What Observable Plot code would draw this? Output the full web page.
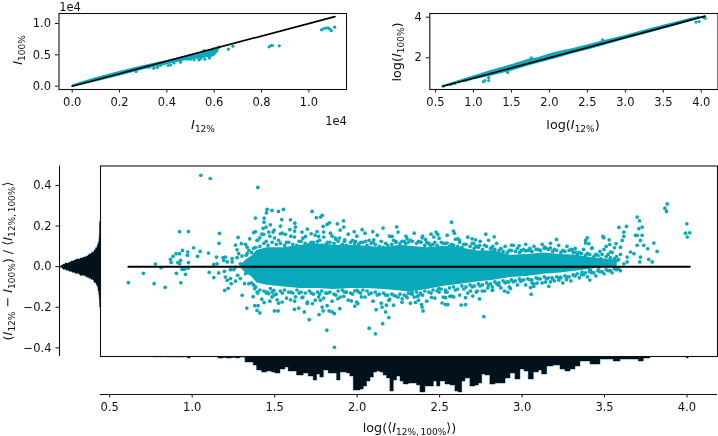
<!DOCTYPE html>
<html><head><meta charset="utf-8">
<script src="https://cdn.jsdelivr.net/npm/d3@7"></script>
<script src="https://cdn.jsdelivr.net/npm/@observablehq/plot@0.6"></script>
<style>
html,body{margin:0;padding:0;background:#fff}
#fig{position:relative;width:718px;height:436px;overflow:hidden;font-family:"DejaVu Sans";color:#111;filter:blur(.3px)}
#fig svg{position:absolute;left:0;top:0;background:transparent}
.lb{position:absolute;white-space:nowrap;font-size:12.8px;line-height:14px;transform:translate(-50%,-50%)}
.lb.r{transform:translate(-50%,-50%) rotate(-90deg)}
.lb.s{font-size:11.5px;line-height:9px}
.lb sub{font-size:9px;line-height:0;vertical-align:-3px}
.lb i{font-style:italic}
</style></head><body><div id="fig"></div>
<script>
const teal="#0aa8bb", ink="#03111d", lineInk="#111", edge="#3f8a9e";

// ---- top-left panel: intensities, units of 1e4
const linBandX=[0,.05,.1,.2,.3,.4,.45,.5,.55,.6,.62];
const linBandLow=[-.01,.025,.065,.16,.26,.34,.38,.42,.44,.47,.55];
const linBandHigh=[.02,.08,.135,.235,.325,.41,.455,.5,.55,.6,.62];
const linearPoints=[[.26,.272],[.27,.235],[.324,.303],[.345,.287],[.36,.3],[.373,.33],[.388,.356],[.405,.33],[.416,.34],[.43,.37],[.458,.383],[.465,.436],[.479,.452],[.486,.43],[.5,.43],[.507,.463],[.515,.42],[.529,.463],[.535,.42],[.543,.436],[.55,.47],[.557,.569],[.56,.43],[.564,.516],[.571,.489],[.578,.543],[.58,.45],[.585,.569],[.59,.5],[.599,.596],[.613,.606],[.62,.622],[.66,.59],[.679,.638],[.832,.628],[.84,.649],[.846,.649],[.875,.644],[1.053,.899],[1.061,.915],[1.071,.926],[1.081,.931],[1.088,.91],[1.095,.885],[1.109,.941]];
const linearIdentity=[[0,0],[1.11,1.11]];
const linearXTicks=[0,.2,.4,.6,.8,1], linearYTicks=[0,.5,1];

// ---- top-right panel: log intensities (envelope of the dense band, and isolated points)
const logBandX=[.6,.8,1,1.2,1.5,1.75,1.85,2,2.1,2.3,2.5,2.7,3,3.3,3.5,3.7,3.85,3.98];
const logBandLow=[.56,.73,.9,1.06,1.34,1.62,1.72,1.86,1.96,2.18,2.37,2.58,2.9,3.2,3.4,3.6,3.77,3.92];
const logBandHigh=[.64,.87,1.1,1.34,1.66,1.95,2,2.18,2.28,2.44,2.63,2.83,3.1,3.4,3.6,3.78,3.93,4.04];
const logPoints=[[.6,.6],[.7,.68],[.75,.74],[.8,.82],[.9,.88],[.95,.95],[1.13,.82],[1.15,.88],[1.2,.88],[1.2,1.02],[1.45,1.28],[1.76,2],[2.2,2.32],[2.7,2.88],[3.93,3.76],[3.97,3.78],[4.03,3.98],[4.05,3.94]];
const logIdentity=[[.6,.6],[4.05,4.05]];
const logXTicks=[.5,1,1.5,2,2.5,3,3.5,4], logYTicks=[2,4];

// ---- main panel: dense core (envelope), crowded fringe, then isolated points
const coreX=[1.3,1.33,1.36,1.393,1.454,1.555,1.656,1.757,1.858,1.959,2.06,2.161,2.263,2.323,2.425,2.526,2.627,2.728,2.829,2.93,3.031,3.132,3.233,3.334,3.395,3.476,3.536,3.577];
const coreHigh=[.012,.035,.05,.08,.093,.093,.105,.113,.105,.105,.1,.093,.105,.1,.093,.1,.093,.077,.077,.056,.06,.067,.06,.056,.047,.039,.037,.031];
const coreLow=[-.012,-.035,-.05,-.08,-.092,-.1,-.108,-.108,-.113,-.108,-.108,-.113,-.12,-.125,-.113,-.097,-.087,-.076,-.067,-.054,-.048,-.038,-.031,-.022,-.015,-.005,-.005,-.002];
const fringeX=[1.36,1.385,1.41,1.435,1.46,1.485,1.51,1.535,1.56,1.585,1.61,1.635,1.66,1.685,1.71,1.735,1.76,1.785,1.81,1.835,1.86,1.885,1.91,1.935,1.96,1.985,2.01,2.035,2.06,2.085,2.11,2.135,2.16,2.185,2.21,2.235,2.26,2.285,2.31,2.335,2.36,2.385,2.41,2.435,2.46,2.485,2.51,2.535,2.56,2.585,2.61,2.635,2.66,2.685,2.71,2.735,2.76,2.785,2.81,2.835,2.86,2.885,2.91,2.935,2.96,2.985,3.01,3.035,3.06,3.085,3.11,3.135,3.16,3.185,3.21,3.235,3.26,3.285,3.31,3.335,3.36,3.385,3.41,3.435,3.46,3.485,3.51,3.535,3.56,3.585];
const fringeOuterX=[1.372,1.398,1.422,1.449,1.471,1.497,1.524,1.546,1.572,1.598,1.621,1.648,1.671,1.698,1.722,1.746,1.773,1.797,1.821,1.848,1.871,1.897,1.923,1.946,1.972,1.998,2.021,2.048,2.072,2.096,2.122,2.146,2.173,2.197,2.221,2.248,2.272,2.296,2.323,2.346,2.372,2.397,2.422,2.448,2.471,2.497,2.522,2.546,2.573,2.596,2.622,2.647,2.671,2.698,2.722,2.746,2.773,2.797,2.822,2.846,2.872,2.897,2.922,2.947,2.972,2.996,3.022,3.047,3.072,3.096,3.122,3.147,3.172,3.196,3.222,3.247,3.272,3.296,3.322,3.347,3.372,3.396,3.422,3.447,3.472,3.497,3.522,3.546,3.572,3.596];
const fringeUpper=[.07,.095,.1,.115,.105,.12,.11,.115,.105,.12,.11,.105,.125,.115,.11,.12,.125,.105,.11,.12,.115,.125,.11,.105,.12,.115,.11,.12,.105,.115,.11,.1,.095,.105,.11,.12,.115,.125,.12,.125,.115,.12,.105,.115,.11,.105,.12,.115,.1,.105,.1,.095,.11,.1,.09,.095,.085,.1,.09,.085,.08,.075,.07,.08,.075,.07,.085,.08,.075,.085,.08,.09,.085,.075,.08,.07,.075,.08,.07,.06,.065,.055,.06,.05,.055,.06,.05,.045,.04,.035];
const fringeUpperOuter=[.09,.13,.16,.125,.15,.18,.13,.165,.12,.15,.175,.125,.14,.185,.12,.155,.13,.17,.12,.15,.135,.18,.125,.16,.13,.15,.12,.165,.13,.12,.155,.125,.115,.15,.13,.17,.125,.15,.13,.165,.125,.15,.12,.16,.12,.14,.115,.155,.11,.135,.12,.11,.145,.115,.1,.125,.105,.13,.1,.115,.09,.1,.08,.105,.09,.08,.11,.09,.1,.085,.11,.09,.115,.085,.105,.08,.1,.085,.09,.07,.085,.065,.09,.06,.075,.085,.06,.07,.05,.06];
const fringeLower=[-.08,-.1,-.115,-.12,-.13,-.125,-.135,-.12,-.115,-.125,-.13,-.115,-.125,-.13,-.12,-.135,-.125,-.12,-.13,-.125,-.135,-.12,-.115,-.125,-.13,-.12,-.125,-.115,-.12,-.13,-.125,-.135,-.13,-.14,-.135,-.145,-.135,-.14,-.13,-.135,-.125,-.13,-.12,-.125,-.115,-.12,-.11,-.115,-.105,-.1,-.11,-.095,-.1,-.09,-.095,-.085,-.09,-.08,-.085,-.075,-.08,-.07,-.075,-.065,-.07,-.06,-.065,-.06,-.065,-.055,-.06,-.05,-.055,-.06,-.05,-.055,-.045,-.05,-.04,-.035,-.04,-.03,-.025,-.03,-.02,-.025,-.015,-.02,-.01,-.012];
const fringeLowerOuter=[-.09,-.13,-.16,-.13,-.17,-.14,-.18,-.13,-.155,-.125,-.17,-.13,-.15,-.175,-.13,-.165,-.135,-.155,-.13,-.17,-.14,-.15,-.125,-.165,-.135,-.175,-.13,-.15,-.135,-.17,-.14,-.18,-.14,-.16,-.19,-.15,-.175,-.145,-.18,-.15,-.165,-.14,-.17,-.13,-.155,-.125,-.15,-.125,-.145,-.115,-.14,-.11,-.13,-.1,-.125,-.095,-.12,-.09,-.115,-.085,-.105,-.08,-.1,-.075,-.09,-.07,-.09,-.065,-.085,-.06,-.08,-.06,-.075,-.07,-.055,-.08,-.05,-.07,-.045,-.055,-.04,-.05,-.03,-.045,-.025,-.035,-.02,-.03,-.015,-.02];
const leftTail=[[.613,-.079],[.704,-.033],[.769,-.084],[.836,-.102],[.931,-.079],[.777,.013],[.811,-.005],[.904,-.033],[.959,-.038],[.923,.172],[.977,.173],[1.008,.093],[1.048,.075],[1.032,.051],[1.099,.067],[1.103,-.028],[1.131,-.054],[1.161,-.031],[1.052,.45],[1.109,.434],[1.398,.39],[1.165,.164],[1.163,.115],[.868,.036],[.872,.021],[.884,.051],[.902,.064],[.923,.064],[.941,.08],[.973,.072],[.971,.056],[.977,.02],[.929,.031],[.913,.02],[.939,-.013],[.953,-.013],[.975,-.008],[.923,.015],[1.147,.047],[1.187,.044],[1.201,.047],[1.191,.031],[1.242,.039],[1.272,.044],[1.302,.052],[1.131,.011],[1.151,.014],[1.212,.023],[1.242,.023],[1.262,-.002],[1.292,.014],[1.327,.056],[1.343,.08],[1.353,.039]];
const lowerLeft=[[1.197,-.117],[1.218,-.107],[1.236,-.084],[1.212,-.067],[1.232,-.059],[1.201,-.051],[1.195,-.023],[1.232,-.015],[1.252,-.015],[1.262,-.071],[1.276,-.043],[1.292,-.059],[1.317,-.084],[1.343,-.084],[1.323,-.035],[1.303,-.141],[1.331,-.204],[1.369,-.148],[1.379,-.192],[1.399,-.192],[1.393,-.215],[1.41,-.228],[1.436,-.177],[1.464,-.133],[1.484,-.149],[1.515,-.163],[1.545,-.174],[1.499,-.218],[1.521,-.218],[1.379,-.108],[1.393,-.125],[1.454,-.125],[1.474,-.108],[1.495,-.117],[1.62,-.21],[1.646,-.204],[1.68,-.223],[1.709,-.261],[1.596,-.163],[1.626,-.149],[1.666,-.153],[1.697,-.182],[1.729,-.182],[1.767,-.149],[1.778,-.166],[1.788,-.199],[1.818,-.192],[1.769,-.236],[1.794,-.218],[1.83,-.218],[1.848,-.223],[1.862,-.231],[1.895,-.207],[1.816,-.313],[1.862,-.397],[1.965,-.169],[1.986,-.194],[2.004,-.182],[2.026,-.149],[2,-.117],[1.919,-.146],[1.883,-.158],[2.073,-.303],[2.111,-.331],[2.155,-.281],[2.115,-.212],[2.151,-.199],[2.178,-.19],[2.192,-.166],[2.172,-.223],[2.192,-.251],[2.222,-.141],[2.273,-.158],[2.303,-.153],[2.333,-.125]];
const upperLeft=[[1.383,.239],[1.436,.239],[1.454,.282],[1.484,.277],[1.45,.265],[1.523,.272],[1.553,.282],[1.543,.232],[1.596,.231],[1.622,.214],[1.626,.195],[1.436,.219],[1.448,.195],[1.43,.188],[1.474,.206],[1.535,.2],[1.49,.17],[1.464,.17],[1.373,.168],[1.383,.172],[1.592,.182],[1.565,.159],[1.535,.162],[1.499,.141],[1.434,.159],[1.41,.142],[1.349,.137],[1.323,.11],[1.298,.113],[1.278,.144],[1.262,.106],[1.272,.083],[1.333,.096],[1.282,.064],[1.333,.064],[1.393,.129],[1.727,.272],[1.753,.241],[1.778,.244],[1.788,.252],[1.832,.216],[1.818,.208],[1.794,.198],[1.88,.211],[1.917,.226],[1.919,.195],[1.62,.146],[1.666,.17],[1.687,.149],[1.721,.162],[1.757,.173],[1.767,.149],[1.798,.146],[1.838,.165],[1.868,.141],[1.893,.141],[1.925,.132],[1.982,.172],[2.03,.182],[2.095,.172],[2.157,.19],[2.24,.196],[2.212,.149],[2.101,.132],[2.05,.124],[1.99,.124],[2.236,.124],[2.303,.137],[2.293,.113]];
const upperRight=[[2.572,.219],[2.584,.175],[2.59,.165],[2.61,.137],[2.621,.129],[2.479,.17],[2.489,.159],[2.465,.146],[2.394,.142],[2.414,.134],[2.388,.121],[2.435,.113],[2.445,.105],[2.697,.137],[2.718,.132],[2.708,.113],[2.742,.105],[2.78,.16],[2.831,.147],[2.936,.106],[2.982,.103],[2.809,.088],[2.829,.083],[2.566,.096],[2.546,.116],[3.021,.077],[3.051,.08],[3.136,.096],[3.172,.092],[3.112,.08],[3.209,.134],[3.304,.083],[3.324,.072],[3.395,.142],[3.385,.129],[3.405,.113],[3.425,.092],[3.385,.116],[3.496,.142],[3.49,.149],[3.528,.132],[3.532,.109],[3.51,.1],[3.587,.193],[3.633,.198],[3.617,.17],[3.617,.149],[3.607,.129],[3.57,.113],[3.56,.093],[3.536,.072],[3.597,.096],[3.698,.244],[3.712,.226],[3.728,.195],[3.708,.187],[3.698,.154],[3.688,.154],[3.728,.154],[3.718,.129],[3.698,.105],[3.738,.105],[3.762,.088],[3.799,.116],[3.819,.075],[3.88,.309],[3.866,.288],[3.876,.272],[3.999,.211],[3.991,.165],[4.017,.167],[4.001,.146],[3.657,.072],[3.637,.047],[3.678,.064],[3.718,.047],[3.768,.036],[3.789,.023],[3.714,.023],[3.637,.023],[3.577,.031],[3.617,.014],[3.581,-.007],[3.465,-.005],[3.516,.023],[3.476,.039],[3.415,-.018],[3.411,-.066]];
const lowerRight=[[2.354,-.176],[2.39,-.187],[2.394,-.199],[2.4,-.218],[2.364,-.146],[2.374,-.141],[2.324,-.133],[2.451,-.151],[2.515,-.179],[2.536,-.187],[2.55,-.187],[2.536,-.153],[2.562,-.146],[2.586,-.149],[2.536,-.125],[2.495,-.108],[2.631,-.189],[2.657,-.187],[2.657,-.153],[2.701,-.145],[2.742,-.159],[2.768,-.246],[2.687,-.12],[2.728,-.12],[2.758,-.12],[2.792,-.105],[2.819,-.117],[2.819,-.1],[2.859,-.092],[2.893,-.12],[2.914,-.126],[2.93,-.108],[2.92,-.076],[2.99,-.071],[3.055,-.136],[3.051,-.103],[3.071,-.097],[3.061,-.081],[3.091,-.081],[3.142,-.076],[3.162,-.097],[3.152,-.059],[3.182,-.054],[3.223,-.067],[3.233,-.051],[3.269,-.064],[3.314,-.043],[3.364,-.027],[3.409,-.018]];
const meanLine=[[.613,0],[4.017,0]];
const mainXTicks=[.5,1,1.5,2,2.5,3,3.5,4], mainYTicks=[-.4,-.2,0,.2,.4];

// ---- histogram under the main panel: left bin edge, height
const bottomEdges=[.77,.8,.84,.88,.92,.95,.975,.99,1.16,1.19,1.21,1.24,1.27,1.29,1.323,1.353,1.373,1.394,1.424,1.454,1.484,1.505,1.535,1.565,1.585,1.616,1.636,1.676,1.707,1.737,1.757,1.777,1.798,1.828,1.858,1.879,1.899,1.939,1.959,1.98,2,2.02,2.04,2.06,2.081,2.101,2.121,2.141,2.161,2.182,2.202,2.222,2.242,2.263,2.283,2.313,2.344,2.364,2.384,2.414,2.445,2.465,2.485,2.505,2.536,2.566,2.596,2.616,2.637,2.657,2.687,2.718,2.738,2.758,2.778,2.808,2.839,2.869,2.9,2.93,2.96,2.99,3.015,3.041,3.071,3.102,3.122,3.152,3.192,3.233,3.263,3.294,3.324,3.354,3.384,3.415,3.475,3.526,3.556,3.597,3.657,3.708,3.738,3.778,4,4.01];
const bottomCounts=[.8,.6,.8,.9,1,.7,2,0,2,1.5,2,1.5,2,1,6,6,9,14,16,15,16,17,13,11,15,15,19,17,20,24,18,21,14,17,17,24,16,17,20,34,34,33,30,25,21,16,15,16,19,22,35,24,20,25,28,27,27,29,36,30,30,25,30,25,28,29,35,36,25,22,30,29,27,18,19,28,27,27,22,17,23,13,15,23,16,14,18,10,9,13,15,13,10,5,5,8,3,3,5,3,3,5,2,.4,2,0];

// ---- histogram left of the main panel: lower bin edge, height
const leftEdges=[-.2,-.18,-.16,-.14,-.12,-.1,-.09,-.08,-.07,-.065,-.06,-.055,-.05,-.045,-.04,-.035,-.03,-.025,-.02,-.015,-.01,-.005,0,.005,.01,.015,.02,.025,.03,.035,.04,.045,.05,.055,.06,.065,.07,.08,.09,.1,.11,.12,.14,.16,.18,.2,.22];
const leftCounts=[.3,.5,.8,1.2,2,3,4,6,7,9,11,13,15,20,21,25,28,31,34,37,38,40,39,37,35,31,29,26,24,20,17,14,12,11,9,8,6,4.5,3,2.3,1.5,1,.7,.5,.5,.3,0];

const dom={mainX:[.444,4.185],mainY:[-.4425,.4956],linX:[-.0558,1.159],linY:[-.0526,1.159],logX:[.425,4.22],logY:[.438,4.18]};
const fmt1=d3.format(".1f"), fmt0=d3.format("d");
const base={width:718,height:436,style:{background:"transparent",fontFamily:"DejaVu Sans",fontSize:"11.5px",color:"#111"}};
const asBins=(edges,counts)=>edges.map((a,i)=>({a,c:counts[i]}));
const ax=(fn,o)=>fn({tickSize:3.5,tickPadding:4.5,fontSize:11.5,strokeOpacity:1,label:null,...o});
const fig=document.getElementById("fig");

// bottom histogram
const bottomBins=asBins(bottomEdges,bottomCounts);
fig.append(Plot.plot({...base,marginLeft:100,marginRight:1,marginTop:356,marginBottom:42,
 x:{domain:dom.mainX,axis:null},y:{domain:[0,38],reverse:true,axis:null},
 marks:[
  Plot.areaY(bottomBins,{x:"a",y1:0,y2:"c",curve:"step-after",fill:edge,stroke:edge,strokeWidth:.8}),
  Plot.areaY(bottomBins,{x:"a",y1:0,y2:"c",curve:"step-after",fill:ink}),
  Plot.ruleY([38],{stroke:lineInk,strokeWidth:1.1}),
  ax(Plot.axisX,{ticks:mainXTicks,tickFormat:fmt1,anchor:"bottom",strokeWidth:1})
 ]}));

// left histogram
const leftBins=asBins(leftEdges,leftCounts);
fig.append(Plot.plot({...base,marginLeft:59,marginRight:618,marginTop:165.5,marginBottom:80,
 x:{domain:[41,0],axis:null},y:{domain:dom.mainY,axis:null},
 marks:[
  Plot.areaX(leftBins,{y:"a",x1:0,x2:"c",curve:"step-before",fill:edge,stroke:edge,strokeWidth:.8}),
  Plot.areaX(leftBins,{y:"a",x1:0,x2:"c",curve:"step-before",fill:ink}),
  Plot.ruleX([41],{stroke:lineInk,strokeWidth:1.1}),
  ax(Plot.axisY,{ticks:mainYTicks,tickFormat:fmt1,anchor:"left",strokeWidth:1})
 ]}));

// main scatter
const core=coreX.map((x,i)=>({x,lo:coreLow[i],hi:coreHigh[i]}));
const dotsOf=a=>Plot.dot(a,{x:d=>d[0],y:d=>d[1],r:1.85,fill:teal});
const zip=(xs,ys)=>xs.map((x,i)=>[x,ys[i]]).filter(d=>d[1]!==undefined);
fig.append(Plot.plot({...base,marginLeft:100,marginRight:1,marginTop:165.5,marginBottom:80,
 x:{domain:dom.mainX,axis:null},y:{domain:dom.mainY,axis:null},
 marks:[
  Plot.frame({stroke:lineInk,strokeWidth:1.1,fill:"#fff"}),
  Plot.areaY(core,{x:"x",y1:"lo",y2:"hi",fill:teal}),
  dotsOf(zip(fringeX,fringeUpper)),dotsOf(zip(fringeOuterX,fringeUpperOuter)),
  dotsOf(zip(fringeX,fringeLower)),dotsOf(zip(fringeOuterX,fringeLowerOuter)),
  dotsOf(leftTail),dotsOf(lowerLeft),dotsOf(upperLeft),dotsOf(upperRight),dotsOf(lowerRight),
  Plot.line(meanLine,{x:d=>d[0],y:d=>d[1],stroke:"#000",strokeWidth:2})
 ]}));

// top-left
const linBand=linBandX.map((x,i)=>({x,lo:linBandLow[i],hi:linBandHigh[i]}));
fig.append(Plot.plot({...base,marginLeft:58.5,marginRight:372,marginTop:13,marginBottom:347,
 x:{domain:dom.linX,axis:null},y:{domain:dom.linY,axis:null},
 marks:[
  Plot.frame({stroke:lineInk,strokeWidth:1.1}),
  Plot.areaY(linBand,{x:"x",y1:"lo",y2:"hi",fill:teal}),
  Plot.dot(linearPoints,{x:d=>d[0],y:d=>d[1],r:1.6,fill:teal}),
  Plot.line(linearIdentity,{x:d=>d[0],y:d=>d[1],stroke:"#000",strokeWidth:1.7}),
  ax(Plot.axisX,{ticks:linearXTicks,tickFormat:fmt1,anchor:"bottom",strokeWidth:1}),
  ax(Plot.axisY,{ticks:linearYTicks,tickFormat:fmt1,anchor:"left",strokeWidth:1})
 ]}));

// top-right
const logBand=logBandX.map((x,i)=>({x,lo:logBandLow[i],hi:logBandHigh[i]}));
fig.append(Plot.plot({...base,marginLeft:429.3,marginRight:.5,marginTop:13,marginBottom:347,
 x:{domain:dom.logX,axis:null},y:{domain:dom.logY,axis:null},
 marks:[
  Plot.frame({stroke:lineInk,strokeWidth:1.1}),
  Plot.areaY(logBand,{x:"x",y1:"lo",y2:"hi",fill:teal}),
  Plot.dot(logPoints,{x:d=>d[0],y:d=>d[1],r:1.6,fill:teal}),
  Plot.line(logIdentity,{x:d=>d[0],y:d=>d[1],stroke:"#000",strokeWidth:1.7}),
  ax(Plot.axisX,{ticks:logXTicks,tickFormat:fmt1,anchor:"bottom",strokeWidth:1}),
  ax(Plot.axisY,{ticks:logYTicks,tickFormat:fmt0,anchor:"left",strokeWidth:1})
 ]}));

// text labels with real subscripts
const I=s=>`<i>I</i><sub>${s}</sub>`;
const addLabel=(html,x,y,cls)=>{const d=document.createElement("div");d.className="lb"+(cls?" "+cls:"");d.innerHTML=html;d.style.left=x+"px";d.style.top=y+"px";fig.append(d);};
addLabel("1e4",70,7,"s");
addLabel("1e4",336,121,"s");
addLabel(I("12%"),203,125);
addLabel(I("100%"),18,50,"r");
addLabel(`log(${I("12%")})`,573,125);
addLabel(`log(${I("100%")})`,397,52,"r");
addLabel(`log(⟨${I("12%,&thinsp;100%")}⟩)`,409.5,428);
addLabel(`(${I("12%")} − ${I("100%")}) / ⟨${I("12%,&thinsp;100%")}⟩`,7.5,261,"r");
</script></body></html>
